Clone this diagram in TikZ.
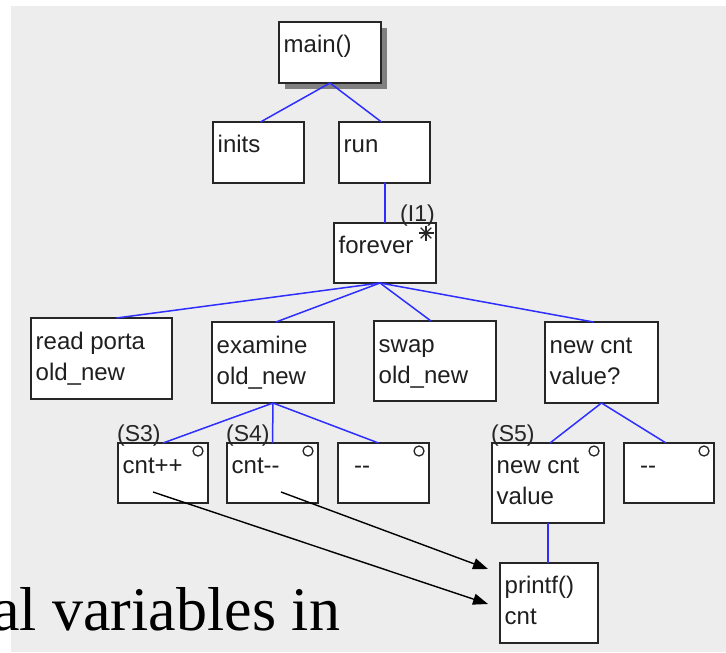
\documentclass[tikz,border=0pt]{standalone}
\usepackage{fontspec}
\setmainfont{Liberation Sans}
\newfontfamily\capserif{Liberation Serif}
\usetikzlibrary{arrows.meta,calc,shadows}
\definecolor{bggray}{HTML}{EDEDED}
\definecolor{linkblue}{HTML}{2E2EFF}
\definecolor{boxline}{HTML}{262626}
\begin{document}
\begin{tikzpicture}[x=1pt,y=-1pt,
  box/.style={draw=boxline, line width=1.5pt, fill=white, inner sep=0pt, outer sep=0pt, anchor=north west},
  txt/.style={anchor=base west, inner sep=0pt, font=\fontsize{24}{31}\selectfont, text=black!88},
  tag/.style={anchor=base west, inner sep=0pt, font=\fontsize{23}{28}\selectfont, text=black!85},
  link/.style={draw=linkblue, line width=1.5pt},
  ringmark/.style={draw=boxline, line width=1.3pt},
  arr/.style={draw=black, line width=1.4pt, -{Triangle[length=15pt,width=11pt]}}
]
\useasboundingbox (0,0) rectangle (726,653);
\fill[bggray] (11,6) rectangle (726,652);

% caption text
\node[anchor=base west, inner sep=0pt, font=\capserif\fontsize{62}{70}\selectfont] (caption) at (-8,630) {al variables in};

% boxes
\node[box, minimum width=102pt, minimum height=61pt,
      drop shadow={shadow xshift=6pt, shadow yshift=-6pt, fill=black!50, opacity=1}] (main) at (279,22) {};
\node[box, minimum width=91pt, minimum height=61pt] (inits) at (213,122) {};
\node[box, minimum width=91pt, minimum height=61pt] (run) at (339,122) {};
\node[box, minimum width=102pt, minimum height=60pt] (forever) at (334,223) {};
\node[box, minimum width=141pt, minimum height=81pt] (read) at (31,318) {};
\node[box, minimum width=122pt, minimum height=81pt] (examine) at (212,322) {};
\node[box, minimum width=122pt, minimum height=80pt] (swap) at (374,321) {};
\node[box, minimum width=113pt, minimum height=81pt] (newq) at (545,322) {};
\node[box, minimum width=90pt, minimum height=60pt] (cntpp) at (118,443) {};
\node[box, minimum width=91pt, minimum height=60pt] (cntmm) at (227,443) {};
\node[box, minimum width=91pt, minimum height=60pt] (dashA) at (338,443) {};
\node[box, minimum width=112pt, minimum height=80pt] (newv) at (492,443) {};
\node[box, minimum width=90pt, minimum height=60pt] (dashB) at (624,443) {};
\node[box, minimum width=98pt, minimum height=80pt] (printf) at (500,563) {};

% texts
\node[txt] (mainT) at ($(main.north west)+(4.5,30)$) {main()};
\node[txt] (initsT) at ($(inits.north west)+(4.5,30)$) {inits};
\node[txt] (runT) at ($(run.north west)+(4.5,30)$) {run};
\node[txt] (foreverT) at ($(forever.north west)+(4.5,30)$) {forever};
\node[txt] (readT) at ($(read.north west)+(4.5,31)$) {read porta};
\node[txt] (readU) at ($(read.north west)+(4.5,62)$) {old\_new};
\node[txt] (examineT) at ($(examine.north west)+(4.5,31)$) {examine};
\node[txt] (examineU) at ($(examine.north west)+(4.5,62)$) {old\_new};
\node[txt] (swapT) at ($(swap.north west)+(4.5,31)$) {swap};
\node[txt] (swapU) at ($(swap.north west)+(4.5,62)$) {old\_new};
\node[txt] (newqT) at ($(newq.north west)+(4.5,31)$) {new cnt};
\node[txt] (newqU) at ($(newq.north west)+(4.5,62)$) {value?};
\node[txt] (cntppT) at ($(cntpp.north west)+(4.5,30)$) {cnt++};
\node[txt] (cntmmT) at ($(cntmm.north west)+(4.5,30)$) {cnt{-}{-}};
\node[txt] (dashAT) at ($(dashA.north west)+(16,30)$) {{-}{-}};
\node[txt] (newvT) at ($(newv.north west)+(4.5,30)$) {new cnt};
\node[txt] (newvU) at ($(newv.north west)+(4.5,61)$) {value};
\node[txt] (dashBT) at ($(dashB.north west)+(16,30)$) {{-}{-}};
\node[txt] (printfT) at ($(printf.north west)+(4.5,30)$) {printf()};
\node[txt] (printfU) at ($(printf.north west)+(4.5,61)$) {cnt};

% tags
\node[tag] (tagI) at (400,221) {(I1)};
\node[tag] (tagS3) at (117,441) {(S3)};
\node[tag] (tagS4) at (226,441) {(S4)};
\node[tag] (tagS5) at (491,441) {(S5)};

% markers
\foreach \b in {cntpp,cntmm,dashA,newv,dashB}
  \draw[ringmark] ($(\b.north east)+(-10,8)$) circle[radius=5pt];
\coordinate (star) at ($(forever.north east)+(-10,10)$);
\foreach \a in {0,45,90,135}
  \draw[line width=1.4pt, boxline] ($(star)+(\a:7.5pt)$) -- ($(star)+(\a+180:7.5pt)$);

% tree links
\draw[link] (main.south) -- ($(inits.north)+(2,0)$);
\draw[link] (main.south) -- ($(run.north)+(-3,0)$);
\draw[link] (run.south) -- (forever.north |- run.south) -- (forever.north);
\coordinate (fb) at ($(forever.south)+(-5,0)$);
\draw[link] (fb) -- ($(read.north)+(15,0)$);
\draw[link] (fb) -- ($(examine.north)+(3,0)$);
\draw[link] (fb) -- ($(swap.north)+(-4,0)$);
\draw[link] (fb) -- ($(newq.north)+(-8,0)$);
\draw[link] (examine.south) -- (cntpp.north);
\draw[link] (examine.south) -- (cntmm.north);
\draw[link] (examine.south) -- ($(dashA.north)+(-5,0)$);
\draw[link] (newq.south) -- ($(newv.north)+(2,0)$);
\draw[link] (newq.south) -- ($(dashB.north)+(-3,0)$);
\draw[link] (newv.south) -- (newv.south |- printf.north);

% data arrows
\coordinate (ppStart) at ($(cntpp.north west)+(35,49)$);
\coordinate (mmStart) at ($(cntmm.north west)+(54,49)$);
\coordinate (ppEnd) at ($(printf.north west)+(-12,41)$);
\coordinate (mmEnd) at ($(printf.north west)+(-12,6)$);
\draw[arr] (ppStart) -- (ppEnd);
\draw[arr] (mmStart) -- (mmEnd);
\end{tikzpicture}
\end{document}
